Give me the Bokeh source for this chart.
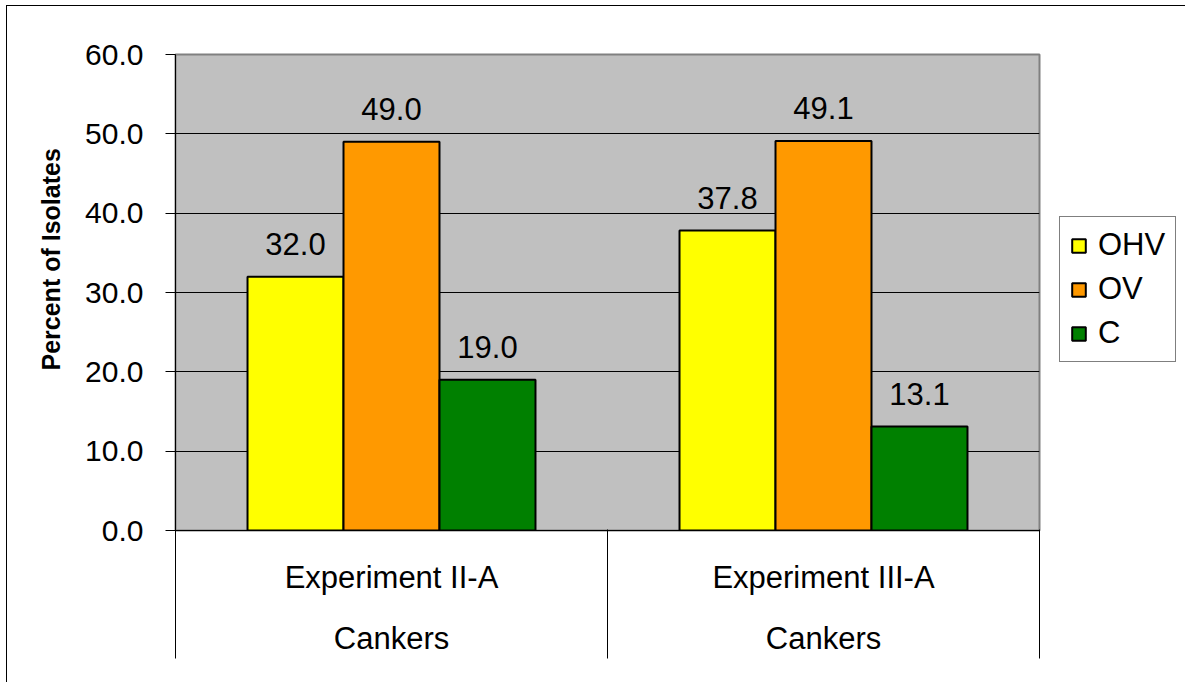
from bokeh.plotting import figure
from bokeh.models import (FactorRange, Range1d, ColumnDataSource, LinearAxis, CategoricalAxis,
                          FixedTicker, NumeralTickFormatter, CustomJSTickFormatter, Legend,
                          LegendItem, Title)
from bokeh.transform import dodge
from bokeh.core.properties import value
from bokeh.embed import file_html
from bokeh.resources import INLINE

# ---- data ----
experiments = ["Experiment II-A", "Experiment III-A"]
tissues = ["Cankers", "Cankers"]
series = ["OHV", "OV", "C"]
ohv = [32.0, 37.8]
ov = [49.0, 49.1]
c = [19.0, 13.1]
y_ticks = [0, 10, 20, 30, 40, 50, 60]
y_title = "Percent of Isolates"

# ---- styles ----
colors = ["#FFFF00", "#FF9900", "#008000"]
FONT = "Liberation Sans"

src = ColumnDataSource(dict(
    x=experiments,
    OHV=ohv, OV=ov, C=c,
    OHV_label=[f"{v:.1f}" for v in ohv],
    OV_label=[f"{v:.1f}" for v in ov],
    C_label=[f"{v:.1f}" for v in c],
))

p = figure(x_range=FactorRange(*experiments, range_padding=0),
           y_range=Range1d(y_ticks[0], y_ticks[-1]),
           frame_width=864, frame_height=476,
           min_border_left=168, min_border_right=143,
           min_border_top=48, min_border_bottom=152,
           toolbar_location=None, output_backend="svg",
           background_fill_color="#C0C0C0", border_fill_color="white",
           outline_line_color="#808080", outline_line_width=2)
p.styles = {"border": "1px solid black", "border-bottom": "none",
            "margin-left": "6px", "margin-top": "5px"}

bw = 0.2222
offsets = [-bw, 0.0, bw]
items = []
for name, col, off in zip(series, colors, offsets):
    xs = dodge("x", off, range=p.x_range)
    r = p.vbar(x=xs, top=name, width=bw, source=src, fill_color=col,
               line_color="black", line_width=2)
    p.text(x=xs, y=name, text=name + "_label", source=src, text_align="center",
           text_baseline="alphabetic", y_offset=-33, text_font=value(FONT),
           text_font_size="31px", text_color="black")
    items.append(LegendItem(label=name, renderers=[r]))

legend = Legend(items=items, location=(20, 168), orientation="vertical",
                border_line_color="black", border_line_width=1,
                background_fill_color="white", background_fill_alpha=1,
                padding=10, spacing=8, label_height=30, glyph_height=17, glyph_width=17,
                label_standoff=11, label_text_font=FONT, label_text_font_size="31px",
                label_text_color="black", margin=0)
p.add_layout(legend, "right")

# y axis
yax = p.yaxis[0]
yax.ticker = FixedTicker(ticks=y_ticks)
yax.formatter = NumeralTickFormatter(format="0.0")
yax.major_label_text_font = FONT
yax.major_label_text_font_size = "30px"
yax.major_label_text_color = "black"
yax.major_tick_out = 10
yax.major_tick_in = 0
yax.minor_tick_line_color = None
yax.axis_line_color = "black"
yax.major_tick_line_color = "black"
yax.major_label_standoff = 22

p.ygrid.ticker = FixedTicker(ticks=y_ticks)
p.ygrid.grid_line_color = "black"
p.xgrid.visible = False

t = Title(text=y_title, align="left", offset=160, text_font=FONT, text_font_size="25px",
          text_font_style="bold", text_color="black", standoff=36)
p.add_layout(t, "left")

# x axes (stacked below the frame)
xa = p.xaxis[0]
xa.major_tick_line_color = None
xa.major_tick_out = 0
xa.major_tick_in = 0
xa.axis_line_color = "black"
xa.major_label_standoff = 29
xa.major_label_text_font = FONT
xa.major_label_text_font_size = "31px"
xa.major_label_text_color = "black"

xb = CategoricalAxis(formatter=CustomJSTickFormatter(args=dict(cats=experiments, tissue=tissues),
                                                     code="return tissue[cats.indexOf(tick)];"),
                     axis_line_color=None, major_tick_line_color=None,
                     major_tick_out=0, major_tick_in=0, major_label_standoff=23,
                     major_label_text_font=FONT, major_label_text_font_size="31px",
                     major_label_text_color="black")
p.add_layout(xb, "below")

# category boundary lines (in the categorical range's synthetic units), pointing up to the frame
xc = LinearAxis(ticker=FixedTicker(ticks=list(range(len(experiments) + 1))),
                major_tick_out=0, major_tick_in=129, major_tick_line_color="black",
                axis_line_color=None, minor_tick_line_color=None, minor_tick_out=0,
                major_label_standoff=0, major_label_text_font_size="0px",
                major_label_text_color=None)
p.add_layout(xc, "below")

open("out.html", "w").write(file_html(p, INLINE))
